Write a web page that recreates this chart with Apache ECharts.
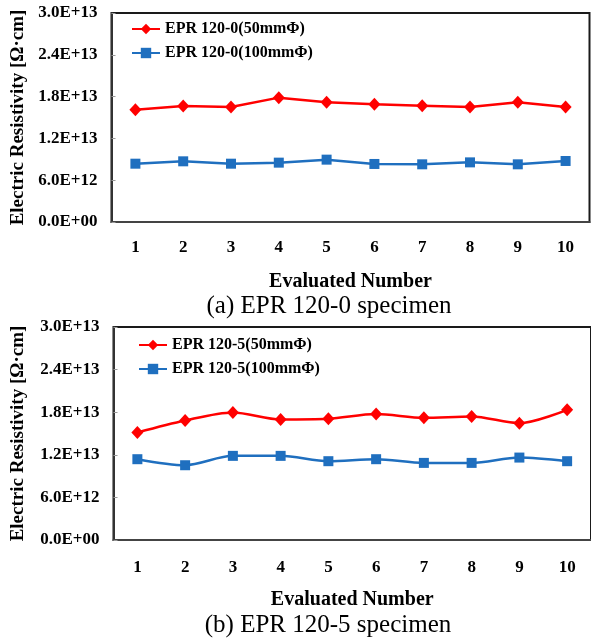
<!DOCTYPE html>
<html>
<head>
<meta charset="utf-8">
<script src="https://cdn.jsdelivr.net/npm/echarts@6/dist/echarts.min.js"></script>
<style>
    html, body { margin: 0; padding: 0; background: #fff; }
    #chart { width: 591px; height: 638px; }
</style>
</head>
<body>
<div id="chart"></div>
<script>
var categories = ['1', '2', '3', '4', '5', '6', '7', '8', '9', '10'];

var namesA = ['EPR 120-0(50mmΦ)', 'EPR 120-0(100mmΦ)'],
    namesB = ['EPR 120-5(50mmΦ)', 'EPR 120-5(100mmΦ)'];

var a50 = [1.61e13, 1.665e13, 1.65e13, 1.785e13, 1.72e13, 1.69e13, 1.67e13, 1.65e13, 1.72e13, 1.65e13],
    a100 = [8.37e12, 8.71e12, 8.37e12, 8.52e12, 8.95e12, 8.33e12, 8.28e12, 8.56e12, 8.28e12, 8.76e12],
    b50 = [1.514e13, 1.683e13, 1.796e13, 1.697e13, 1.707e13, 1.773e13, 1.721e13, 1.74e13, 1.646e13, 1.834e13],
    b100 = [1.138e13, 1.053e13, 1.185e13, 1.185e13, 1.11e13, 1.138e13, 1.086e13, 1.086e13, 1.161e13, 1.11e13];

var yMin = 0, yMax = 3.0e13, yStep = 6.0e12;

var titles = ['(a) EPR 120-0 specimen', '(b) EPR 120-5 specimen'],
    xName = 'Evaluated Number',
    yName = 'Electric Resistivity [Ω·cm]';

var serif = '"Liberation Serif", "Times New Roman", serif',
    red = '#ff0000',
    blue = '#1f6fbf';

function sci(v) {
    if (v === 0) return '0.0E+00';
    var e = Math.floor(Math.log10(v) + 1e-9),
        m = v / Math.pow(10, e);
    return m.toFixed(1) + 'E+' + (e < 10 ? '0' + e : e);
}

function xAxisFor(i, margin, gap) {
    return {
        type: 'category',
        gridIndex: i,
        data: categories,
        boundaryGap: true,
        name: xName,
        nameLocation: 'middle',
        nameGap: gap,
        nameTextStyle: { fontFamily: serif, fontWeight: 'bold', fontSize: 20, color: '#000' },
        axisLine: { lineStyle: { color: '#444', width: 2 } },
        axisTick: { inside: true, length: 4, lineStyle: { color: '#999', width: 1 } },
        axisLabel: { margin: margin, fontFamily: serif, fontWeight: 'bold', fontSize: 17, color: '#000' },
        splitLine: { show: false }
    };
}

function yAxisFor(i, gap) {
    return {
        type: 'value',
        gridIndex: i,
        min: yMin,
        max: yMax,
        interval: yStep,
        name: yName,
        nameLocation: 'middle',
        nameGap: gap,
        nameRotate: 90,
        nameTextStyle: { fontFamily: serif, fontWeight: 'bold', fontSize: 19, color: '#000' },
        axisLine: { show: true, lineStyle: { color: '#333', width: 2 } },
        axisTick: { show: true, inside: true, length: 4, lineStyle: { color: '#999', width: 1 } },
        axisLabel: { margin: 14, fontFamily: serif, fontWeight: 'bold', fontSize: 17, color: '#000', formatter: sci },
        splitLine: { show: false }
    };
}

function lineFor(name, i, data, color, symbol, size, smooth) {
    return {
        name: name,
        type: 'line',
        xAxisIndex: i,
        yAxisIndex: i,
        data: data,
        smooth: smooth,
        symbol: symbol,
        symbolSize: size,
        showSymbol: true,
        lineStyle: { color: color, width: 2.5 },
        itemStyle: { color: color },
        z: symbol === 'diamond' ? 3 : 2
    };
}

function legendFor(names, left, top) {
    return {
        data: names,
        orient: 'vertical',
        left: left,
        top: top,
        itemWidth: 28,
        itemHeight: 13,
        itemGap: 8,
        itemStyle: { borderWidth: 0 },
        textStyle: { fontFamily: serif, fontWeight: 'bold', fontSize: 16, color: '#000', lineHeight: 14 }
    };
}

var chart = echarts.init(document.getElementById('chart'), null, { renderer: 'canvas' });

chart.setOption({
    animation: false,
    backgroundColor: '#fff',
    title: [
        { text: titles[0], left: 324, top: 289, textAlign: 'center',
          textStyle: { fontFamily: serif, fontWeight: 'normal', fontSize: 25, color: '#000' } },
        { text: titles[1], left: 323, top: 608, textAlign: 'center',
          textStyle: { fontFamily: serif, fontWeight: 'normal', fontSize: 25, color: '#000' } }
    ],
    legend: [
        legendFor(namesA, 126, 16),
        legendFor(namesB, 133, 332)
    ],
    grid: [
        { left: 111.5, top: 13, width: 478, height: 209, show: true, borderColor: '#1a1a1a', borderWidth: 2 },
        { left: 113.5, top: 327, width: 483, height: 213, show: true, borderColor: '#1a1a1a', borderWidth: 2 }
    ],
    xAxis: [xAxisFor(0, 17, 50), xAxisFor(1, 19, 50)],
    yAxis: [yAxisFor(0, 84), yAxisFor(1, 86)],
    series: [
        lineFor(namesA[0], 0, a50, red, 'diamond', [12, 13], false),
        lineFor(namesA[1], 0, a100, blue, 'rect', 10, false),
        lineFor(namesB[0], 1, b50, red, 'diamond', [12, 13], 0.3),
        lineFor(namesB[1], 1, b100, blue, 'rect', 10, 0.3)
    ]
});
</script>
</body>
</html>
